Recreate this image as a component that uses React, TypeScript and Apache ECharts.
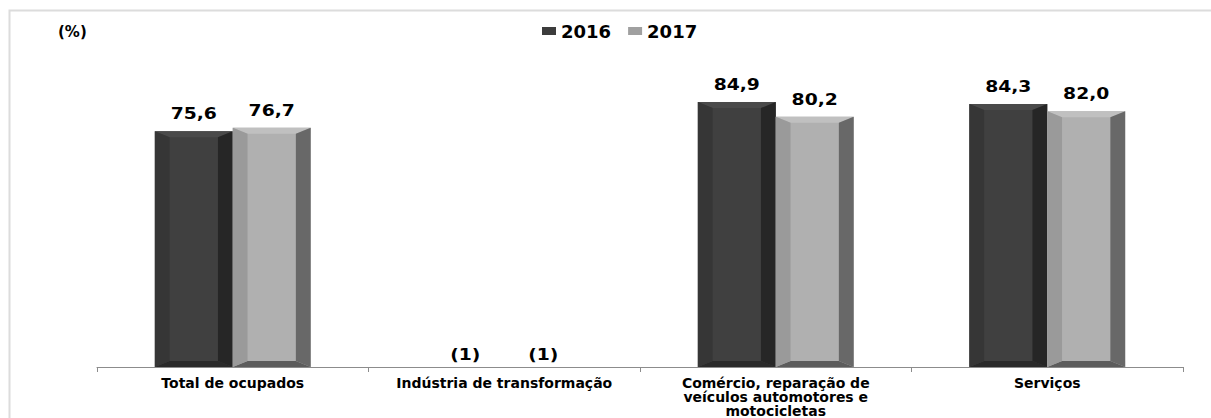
import React, { useEffect, useRef } from "react";
import * as echarts from "echarts";

const categories = [
  "Total de ocupados",
  "Indústria de transformação",
  "Comércio, reparação de\nveículos automotores e\nmotocicletas",
  "Serviços",
];
const seriesNames = ["2016", "2017"];
const values2016: (number | null)[] = [75.6, null, 84.9, 84.3];
const values2017: (number | null)[] = [76.7, null, 80.2, 82.0];
const missingLabel = "(1)";
const unitLabel = "(%)";

const FONT = '"DejaVu Sans", "Liberation Sans", Arial, sans-serif';

const palettes = [
  { face: "#404040", top: "#4a4a4a", left: "#363636", right: "#262626", bottom: "#2a2a2a", legend: "#3c3c3c" },
  { face: "#b0b0b0", top: "#c0c0c0", left: "#9a9a9a", right: "#686868", bottom: "#5c5c5c", legend: "#a0a0a0" },
];

function fmt(v: number | null): string {
  return v == null ? missingLabel : v.toFixed(1).replace(".", ",");
}

function makeSeries(name: string, vals: (number | null)[], side: number) {
  const pal = palettes[side];
  return {
    type: "custom",
    name,
    itemStyle: { color: pal.legend },
    data: vals.map((v, i) => [i, v == null ? 0 : v]),
    encode: { x: 0, y: 1 },
    renderItem: (params: any, api: any) => {
      const ci = api.value(0);
      const v = api.value(1);
      const raw = vals[params.dataIndex];
      const base = api.coord([ci, 0]);
      const top = api.coord([ci, v]);
      const band = api.size([1, 0])[0];
      const bw = band * 0.287;
      const x0 = side === 0 ? base[0] - bw : base[0];
      const x1 = x0 + bw;
      const y0 = top[1];
      const y1 = base[1];
      const sx = bw * 0.19;
      const sy = 6;
      const children: any[] = [];
      if (raw != null) {
        const poly = (pts: number[][], fill: string) => ({
          type: "polygon",
          shape: { points: pts },
          style: { fill },
        });
        children.push(poly([[x0, y0], [x1, y0], [x1, y1], [x0, y1]], pal.face));
        children.push(poly([[x0, y0], [x1, y0], [x1 - sx, y0 + sy], [x0 + sx, y0 + sy]], pal.top));
        children.push(poly([[x0, y1], [x1, y1], [x1 - sx, y1 - sy], [x0 + sx, y1 - sy]], pal.bottom));
        children.push(poly([[x0, y0], [x0 + sx, y0 + sy], [x0 + sx, y1 - sy], [x0, y1]], pal.left));
        children.push(poly([[x1, y0], [x1 - sx, y0 + sy], [x1 - sx, y1 - sy], [x1, y1]], pal.right));
      }
      children.push({
        type: "text",
        x: (x0 + x1) / 2,
        y: y0 - (raw == null ? 12 : 17),
        scaleX: 1.25,
        style: {
          text: fmt(raw),
          fill: "#000",
          font: `bold 15px ${FONT}`,
          align: "center",
          verticalAlign: "middle",
        },
      });
      return { type: "group", children };
    },
  };
}

export default function App() {
  const ref = useRef<HTMLDivElement>(null);
  useEffect(() => {
    document.body.style.margin = "0";
    const chart = echarts.init(ref.current!, null, { renderer: "svg" });
    chart.setOption({
      animation: false,
      backgroundColor: "#ffffff",
      color: palettes.map((p) => p.legend),
      title: {
        text: unitLabel,
        left: 53,
        top: 19,
        textStyle: { fontFamily: FONT, fontWeight: "bold", fontSize: 15, color: "#000" },
      },
      legend: {
        data: seriesNames,
        left: 537,
        top: 17,
        icon: "rect",
        itemWidth: 14,
        itemHeight: 8,
        itemGap: 17,
        textStyle: { fontFamily: FONT, fontWeight: "bold", fontSize: 18, color: "#000" },
      },
      graphic: [
        {
          type: "rect",
          left: 7,
          top: 8,
          shape: { width: 1300, height: 500 },
          style: { fill: "none", stroke: "#dcdcdc", lineWidth: 2 },
          silent: true,
        },
      ],
      grid: { left: 97, right: 28, top: 55, bottom: 51 },
      xAxis: {
        type: "category",
        data: categories,
        axisLine: { lineStyle: { color: "#8c8c8c", width: 1 } },
        axisTick: { show: true, length: 5, lineStyle: { color: "#8c8c8c" } },
        axisLabel: {
          interval: 0,
          margin: 9,
          fontFamily: FONT,
          fontWeight: "bold",
          fontSize: 14,
          lineHeight: 14,
          color: "#000",
        },
      },
      yAxis: {
        type: "value",
        min: 0,
        max: 100,
        show: false,
        splitLine: { show: false },
      },
      series: [makeSeries(seriesNames[0], values2016, 0), makeSeries(seriesNames[1], values2017, 1)],
    });
    return () => chart.dispose();
  }, []);
  return <div ref={ref} style={{ width: 1211, height: 418 }} />;
}
